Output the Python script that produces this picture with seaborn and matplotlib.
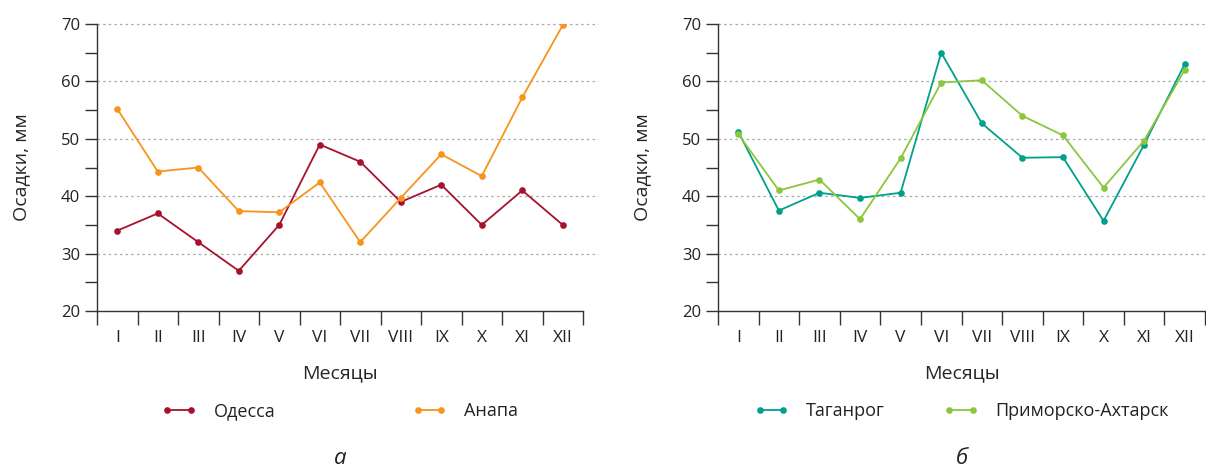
import matplotlib.pyplot as plt
import matplotlib.ticker as mticker
import seaborn as sns
import pandas as pd

months = ["I", "II", "III", "IV", "V", "VI", "VII", "VIII", "IX", "X", "XI", "XII"]

odessa = [34, 37, 32, 27, 35, 49, 46, 39, 42, 35, 41, 35]
anapa = [55.2, 44.3, 45, 37.4, 37.2, 42.4, 32, 39.7, 47.3, 43.5, 57.2, 69.8]

taganrog = [51.2, 37.5, 40.6, 39.7, 40.6, 65, 52.7, 46.7, 46.8, 35.7, 49, 63]
primorsko = [50.8, 41, 42.9, 36, 46.6, 59.8, 60.2, 54, 50.6, 41.5, 49.7, 62]

# (series, colours, letter, legend column spacing)
panels = [
    ({"Одесса": odessa, "Анапа": anapa}, ["#a6122d", "#f7941d"], "а", 7.6),
    ({"Таганрог": taganrog, "Приморско-Ахтарск": primorsko}, ["#00a08b", "#8cc63f"], "б", 3.3),
]

sns.set_theme(style="white")
plt.rcParams["font.family"] = ["Open Sans", "DejaVu Sans"]
plt.rcParams["text.color"] = "#222222"

fig = plt.figure(figsize=(12.06, 4.70), dpi=100)
boxes = [[97 / 1206, 1 - 311 / 470, 486 / 1206, 287 / 470],
         [718 / 1206, 1 - 311 / 470, 487 / 1206, 287 / 470]]
grid_ends = [1.03, 1.0]

for (series, colors, letter, colsp), box, gend in zip(panels, boxes, grid_ends):
    ax = fig.add_axes(box)
    rows = []
    for name, vals in series.items():
        for m, v in zip(months, vals):
            rows.append({"month": m, "value": v, "city": name})
    df = pd.DataFrame(rows)

    sns.lineplot(data=df, x="month", y="value", hue="city", palette=colors,
                 marker="o", markersize=4.8, markeredgewidth=0, linewidth=1.3,
                 sort=False, ax=ax)

    ax.set_xlim(-0.5, 11.5)
    ax.set_ylim(20, 70)
    ax.yaxis.set_major_locator(mticker.MultipleLocator(10))
    ax.yaxis.set_minor_locator(mticker.MultipleLocator(5))
    ax.set_xticks(range(12))
    ax.set_xticklabels(months)
    ax.xaxis.set_minor_locator(mticker.FixedLocator([i - 0.5 for i in range(13)]))
    ax.tick_params(axis="x", which="major", length=0, pad=14, labelsize=12.5, colors="#222222")
    ax.tick_params(axis="x", which="minor", length=10, width=1, color="#333333", direction="out", bottom=True)
    ax.tick_params(axis="y", which="both", length=9, width=1, color="#333333", direction="out", left=True,
                   labelsize=12, labelcolor="#222222", pad=3)

    for y in [30, 40, 50, 60, 70]:
        ax.axhline(y, xmin=0, xmax=gend, color="#aaaaaa", linestyle=(0, (2, 2.5)),
                   linewidth=0.9, zorder=0, clip_on=False)

    sns.despine(ax=ax, top=True, right=True)
    for s in ["left", "bottom"]:
        ax.spines[s].set_color("#333333")
        ax.spines[s].set_linewidth(1)

    ax.set_xlabel("Месяцы", fontsize=14, labelpad=13)
    ax.set_ylabel("Осадки, мм", fontsize=14, labelpad=22)

    handles, labels = ax.get_legend_handles_labels()
    ax.legend(handles, labels, loc="center", bbox_to_anchor=(0.5, -0.35),
              ncol=2, frameon=False, fontsize=13, numpoints=2,
              handlelength=1.9, columnspacing=colsp, handletextpad=0.95)

    ax.text(0.5, -0.515, letter, transform=ax.transAxes, ha="center", va="center",
            fontsize=16, style="italic", fontweight="medium")

fig.savefig("out.png", dpi=100)
